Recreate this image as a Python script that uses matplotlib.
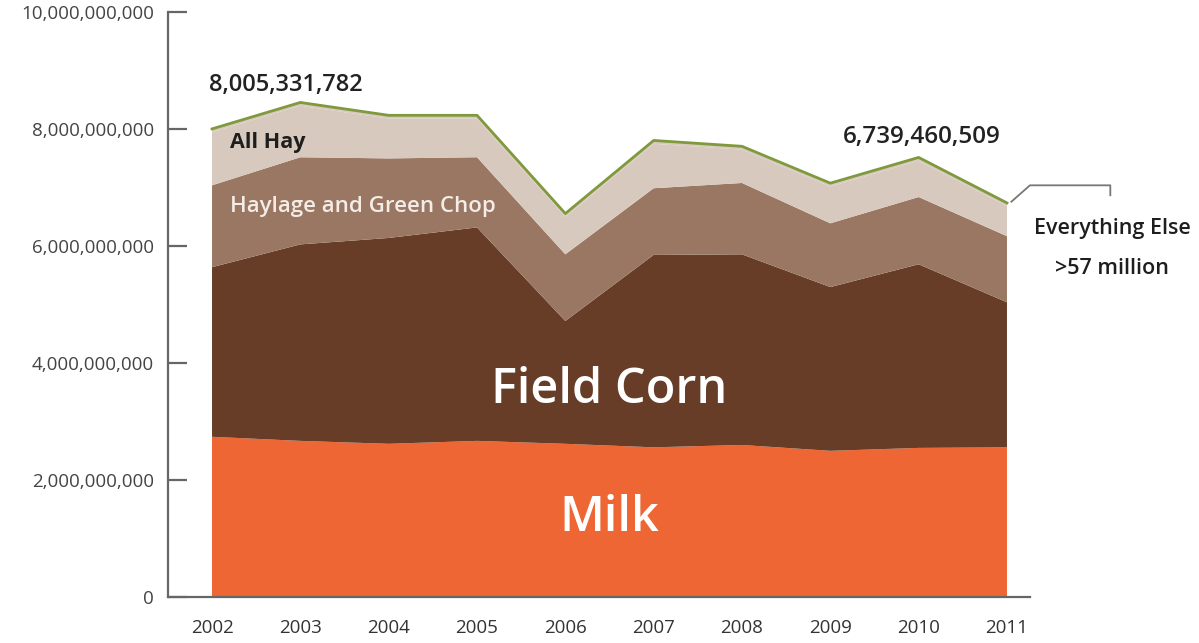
import numpy as np
import matplotlib
matplotlib.use("Agg")
import matplotlib.pyplot as plt
from matplotlib.ticker import FuncFormatter

plt.rcParams['font.family'] = ['Open Sans', 'DejaVu Sans']

# values (in dollars)
years = [2002, 2003, 2004, 2005, 2006, 2007, 2008, 2009, 2010, 2011]
milk = np.array([2.74, 2.67, 2.62, 2.67, 2.62, 2.56, 2.60, 2.50, 2.55, 2.56]) * 1e9
field_corn = np.array([2.90, 3.36, 3.52, 3.65, 2.10, 3.29, 3.26, 2.80, 3.14, 2.48]) * 1e9
haylage = np.array([1.40, 1.49, 1.36, 1.20, 1.14, 1.14, 1.22, 1.09, 1.15, 1.13]) * 1e9
all_hay = np.array([0.908, 0.88, 0.68, 0.66, 0.64, 0.76, 0.57, 0.63, 0.62, 0.512]) * 1e9
everything_else = np.array([0.057, 0.057, 0.057, 0.057, 0.057, 0.057, 0.057, 0.057, 0.057, 0.057]) * 1e9
yticks = [0, 2e9, 4e9, 6e9, 8e9, 10e9]

total = milk + field_corn + haylage + all_hay + everything_else

fig = plt.figure(figsize=(11.99, 6.43), dpi=100)
ax = fig.add_axes([0.140, 0.0715, 0.719, 0.9095])

ax.stackplot(years, milk, field_corn, haylage, all_hay, everything_else,
             colors=['#EE6633', '#673D27', '#9A7762', '#D8C9BF', '#D8C9BF'],
             linewidth=0)
ax.plot(years, total, color='#7F9A3C', lw=2)

ax.set_xlim(2001.5, 2011.26)
ax.set_ylim(0, 10e9)
ax.set_xticks(years)
ax.set_yticks(yticks)
ax.yaxis.set_major_formatter(FuncFormatter(lambda v, p: '{:,.0f}'.format(v)))
ax.tick_params(axis='y', direction='in', length=14, width=1.6, color='#666666',
               labelsize=13.5, labelcolor='#444444', pad=10)
ax.tick_params(axis='x', length=0, labelsize=13.5, labelcolor='#333333', pad=16)
for s in ['top', 'right']:
    ax.spines[s].set_visible(False)
for s in ['left', 'bottom']:
    ax.spines[s].set_color('#666666')
    ax.spines[s].set_linewidth(1.6)

# labels
ax.text(2002.83, 8.75e9, '8,005,331,782', ha='center', va='center',
        fontsize=17, fontweight='semibold', color='#222222')
ax.text(2010.04, 7.86e9, '6,739,460,509', ha='center', va='center',
        fontsize=17.5, fontweight='semibold', color='#222222')
ax.text(2002.2, 7.78e9, 'All Hay', ha='left', va='center',
        fontsize=15.5, fontweight='bold', color='#1E1E1E')
ax.text(2002.2, 6.68e9, 'Haylage and Green Chop', ha='left', va='center',
        fontsize=16, fontweight='semibold', color='#F3ECE7')
ax.text(2006.5, 3.54e9, 'Field Corn', ha='center', va='center',
        fontsize=35, fontweight='semibold', color='white')
ax.text(2006.5, 1.35e9, 'Milk', ha='center', va='center',
        fontsize=35, fontweight='semibold', color='white')
ax.text(2012.19, 6.31e9, 'Everything Else', ha='center', va='center',
        fontsize=15.5, fontweight='semibold', color='#1E1E1E', clip_on=False)
ax.text(2012.19, 5.62e9, '>57 million', ha='center', va='center',
        fontsize=15.5, fontweight='semibold', color='#1E1E1E', clip_on=False)
ax.plot([2011.05, 2011.26, 2012.17, 2012.17], [6.76e9, 7.04e9, 7.04e9, 6.87e9],
        color='#777777', lw=1.3, clip_on=False)

fig.savefig('out.png', dpi=100)
